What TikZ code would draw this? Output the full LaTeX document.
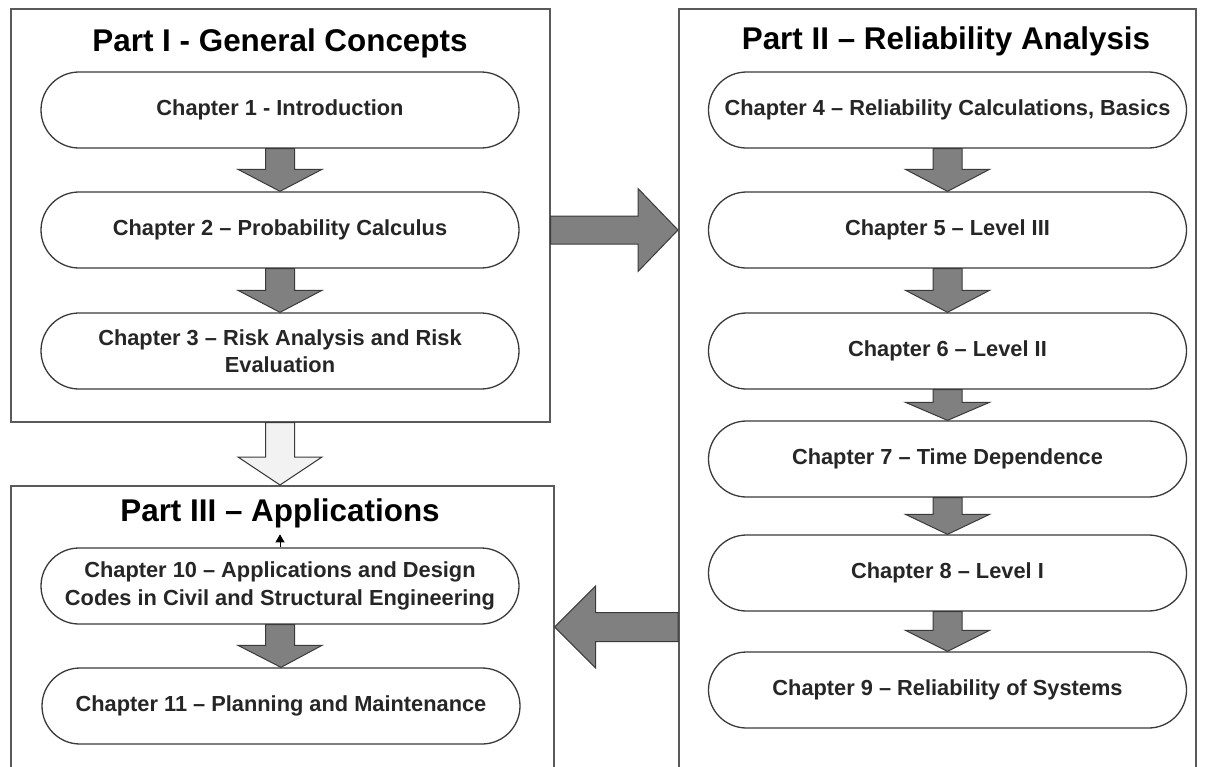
\documentclass[tikz,border=0pt]{standalone}
\usepackage{fontspec}
\setmainfont{Liberation Sans}
\usetikzlibrary{calc,arrows.meta}
\definecolor{arrowgray}{HTML}{808080}
\definecolor{lightfill}{HTML}{F2F2F2}
\definecolor{framegray}{HTML}{5A5A5A}
\definecolor{chapline}{HTML}{3A3A3A}
\tikzset{
  partbox/.style={draw=framegray, line width=1.6pt, fill=none},
  chapbox/.style={draw=chapline, line width=1.3pt, rounded corners=38pt,
    minimum width=478pt, minimum height=76pt, inner sep=0pt, align=center,
    font=\fontsize{21.8}{27.5}\selectfont\bfseries, text=black!85},
  parttitle/.style={font=\fontsize{31.4}{36}\selectfont\bfseries, inner sep=0pt},
  blockarrow/.style={draw=chapline, line width=1pt, line join=miter, fill=arrowgray},
}
\newcommand{\blockdown}[4]{% fill, head length, from, to
  \draw[blockarrow, fill=#1] let \p1=(#3), \p2=(#4) in
    (\x1-14.5pt,\y1) -- (\x1+14.5pt,\y1) -- (\x1+14.5pt,\y2+#2) -- (\x1+42pt,\y2+#2)
    -- (\x2,\y2) -- (\x1-42pt,\y2+#2) -- (\x1-14.5pt,\y2+#2) -- cycle;}
\begin{document}
\begin{tikzpicture}[x=1pt,y=-1pt]
\useasboundingbox (0,0) rectangle (1212,766);
\fill[white] (0,0) rectangle (1212,766);
% part frames
\node[partbox, anchor=north west, minimum width=539pt, minimum height=413pt, inner sep=0pt] (p1) at (10,8) {};
\node[partbox, anchor=north west, minimum width=517pt, minimum height=800pt, inner sep=0pt] (p2) at (678,8) {};
\node[partbox, anchor=north west, minimum width=543pt, minimum height=400pt, inner sep=0pt] (p3) at (10,485) {};
% titles
\node[parttitle] (t1) at (280,43) {Part I - General Concepts};
\node[parttitle] (t2) at (946,41) {Part II – Reliability Analysis};
\node[parttitle] (t3) at (280,513) {Part III – Applications};
% chapters part I
\node[chapbox] (c1) at (280,110) {Chapter 1 - Introduction};
\node[chapbox] (c2) at (280,230) {Chapter 2 – Probability Calculus};
\node[chapbox] (c3) at (280,351) {Chapter 3 – Risk Analysis and Risk\\Evaluation};
% chapters part II
\node[chapbox] (c4) at (947.5,110) {Chapter 4 – Reliability Calculations, Basics};
\node[chapbox] (c5) at (947.5,230) {Chapter 5 – Level III};
\node[chapbox] (c6) at (947.5,351) {Chapter 6 – Level II};
\node[chapbox] (c7) at (947.5,459) {Chapter 7 – Time Dependence};
\node[chapbox] (c8) at (947.5,573) {Chapter 8 – Level I};
\node[chapbox] (c9) at (947.5,690) {Chapter 9 – Reliability of Systems};
% chapters part III
\node[chapbox] (c10) at (280,586) {Chapter 10 – Applications and Design\\Codes in Civil and Structural Engineering};
\node[chapbox] (c11) at (281,706) {Chapter 11 – Planning and Maintenance};
% down arrows
\blockdown{arrowgray}{22pt}{c1.south}{c2.north}
\blockdown{arrowgray}{22pt}{c2.south}{c3.north}
\blockdown{arrowgray}{22pt}{c4.south}{c5.north}
\blockdown{arrowgray}{22pt}{c5.south}{c6.north}
\blockdown{arrowgray}{18pt}{c6.south}{c7.north}
\blockdown{arrowgray}{20pt}{c7.south}{c8.north}
\blockdown{arrowgray}{21pt}{c8.south}{c9.north}
\blockdown{arrowgray}{22pt}{c10.south}{c11.north}
\blockdown{lightfill}{28pt}{c3.south |- p1.south}{c3.south |- p3.north}
% right arrow part I -> part II
\coordinate (ra) at (p1.east |- c2);
\coordinate (rb) at (p2.west |- c2);
\draw[blockarrow] let \p1=(ra), \p2=(rb) in
  (\x1,\y1+14pt) -- (\x2-40pt,\y1+14pt) -- (\x2-40pt,\y1+41.5pt) -- (\x2,\y1)
  -- (\x2-40pt,\y1-41.5pt) -- (\x2-40pt,\y1-14pt) -- (\x1,\y1-14pt) -- cycle;
% left arrow part II -> part III
\coordinate (la) at (678,627);
\coordinate (lb) at (p3.east |- la);
\draw[blockarrow] let \p1=(la), \p2=(lb) in
  (\x1,\y1+14.5pt) -- (\x2+41pt,\y1+14.5pt) -- (\x2+41pt,\y1+41pt) -- (\x2,\y1)
  -- (\x2+41pt,\y1-41pt) -- (\x2+41pt,\y1-14.5pt) -- (\x1,\y1-14.5pt) -- cycle;
% small connector
\coordinate (smalltip) at ($(c10.north)+(0,-13)$);
\draw[line width=0.8pt, -{Triangle[length=8pt,width=9pt]}] (c10.north) -- (smalltip);
\end{tikzpicture}
\end{document}
